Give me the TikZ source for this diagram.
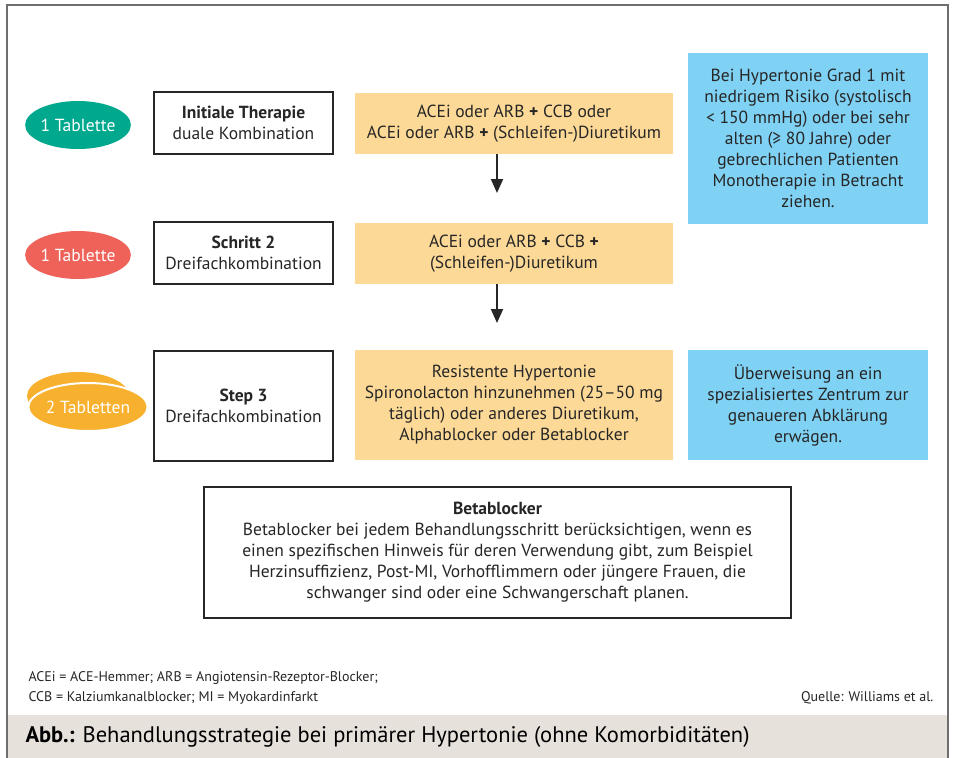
\documentclass[tikz,border=0pt]{standalone}
\usepackage{fontspec}
\setmainfont{PT Sans}
\usepackage{tikz}
\usetikzlibrary{arrows.meta,positioning,shapes.geometric}

\definecolor{framegray}{HTML}{6E6E6E}
\definecolor{textgray}{HTML}{262626}
\definecolor{pilgreen}{HTML}{00A88E}
\definecolor{pilred}{HTML}{EF625A}
\definecolor{pilorange}{HTML}{F7B12E}
\definecolor{drugfill}{HTML}{FCD997}
\definecolor{notefill}{HTML}{80D2F5}
\definecolor{capfill}{HTML}{E7E1DB}

\begin{document}
\begin{tikzpicture}[
  x=1pt, y=-1pt,
  every node/.style={font=\fontsize{17.5}{21}\selectfont, text=textgray},
  pill/.style={ellipse, fill=#1, minimum width=102pt, minimum height=48pt, inner sep=0pt, text=white},
  stepbox/.style={draw=textgray, line width=2pt, minimum width=179pt, align=center, inner sep=0pt},
  drug/.style={fill=drugfill, minimum width=318pt, align=center, inner sep=0pt},
  note/.style={fill=notefill, minimum width=240pt, align=center, inner sep=0pt},
  arrow/.style={-{Triangle[width=12pt,length=14pt]}, line width=2pt, draw=textgray}
]
\useasboundingbox (0,0) rectangle (962,758);

% Frame and caption band
\fill[capfill] (7,715) rectangle (948,758);
\draw[framegray, line width=1.5pt] (7,758) -- (7,5) -- (948,5) -- (948,758);

% Row 1
\node[pill=pilgreen] (pill1) at (78,125) {1 Tablette};
\node[stepbox, minimum height=62pt] (step1) at (243.5,123) {\textbf{Initiale Therapie}\\duale Kombination};
\node[drug, minimum height=61pt] (drug1) at (514,123.5) {ACEi oder ARB \textbf{+} CCB oder\\ACEi oder ARB \textbf{+} (Schleifen-)Diuretikum};
\node[note, minimum height=171pt] (note1) at (808,138.5) {Bei Hypertonie Grad 1 mit\\niedrigem Risiko (systolisch\\< 150 mmHg) oder bei sehr\\alten (≥ 80 Jahre) oder\\gebrechlichen Patienten\\Monotherapie in Betracht\\ziehen.};

% Row 2
\node[pill=pilred] (pill2) at (78,255) {1 Tablette};
\node[stepbox, minimum height=62pt] (step2) at (243.5,253) {\textbf{Schritt 2}\\Dreifachkombination};
\node[drug, minimum height=61pt] (drug2) at (514,253.5) {ACEi oder ARB \textbf{+} CCB \textbf{+}\\(Schleifen-)Diuretikum};

% Row 3
\fill[pilorange] (78,396) ellipse [x radius=51, y radius=24];
\node[pill=pilorange, draw=white, line width=2pt] (pill3) at (88,407) {2 Tabletten};
\node[stepbox, minimum height=110pt] (step3) at (243.5,406) {\textbf{Step 3}\\Dreifachkombination};
\node[drug, minimum height=110pt] (drug3) at (514,405) {Resistente Hypertonie\\Spironolacton hinzunehmen (25--50 mg\\täglich) oder anderes Diuretikum,\\Alphablocker oder Betablocker};
\node[note, minimum height=110pt] (note2) at (808,405) {Überweisung an ein\\spezialisiertes Zentrum zur\\genaueren Abklärung\\erwägen.};

% Arrows
\coordinate (a1) at (497,193);
\coordinate (a2) at (497,323);
\draw[arrow] (a1 |- drug1.south) -- (a1);
\draw[arrow] (a2 |- drug2.south) -- (a2);

% Betablocker
\node[stepbox, minimum width=587pt, minimum height=131pt] (beta) at (497.5,552.5) {\textbf{Betablocker}\\Betablocker bei jedem Behandlungsschritt berücksichtigen, wenn es\\einen spezifischen Hinweis für deren Verwendung gibt, zum Beispiel\\Herzinsuffizienz, Post-MI, Vorhofflimmern oder jüngere Frauen, die\\schwanger sind oder eine Schwangerschaft planen.};

% Footer
\node[anchor=west, align=left, font=\fontsize{14}{20}\selectfont] (abbr) at (25,688) {ACEi = ACE-Hemmer; ARB = Angiotensin-Rezeptor-Blocker;\\CCB = Kalziumkanalblocker; MI = Myokardinfarkt};
\node[anchor=east, font=\fontsize{14}{20}\selectfont] (src) at (937,698) {Quelle: Williams et al.};
\node[anchor=west, font=\fontsize{22.5}{26}\selectfont, text=black] (cap) at (22,737) {\textbf{Abb.:} Behandlungsstrategie bei primärer Hypertonie (ohne Komorbiditäten)};
\end{tikzpicture}
\end{document}
